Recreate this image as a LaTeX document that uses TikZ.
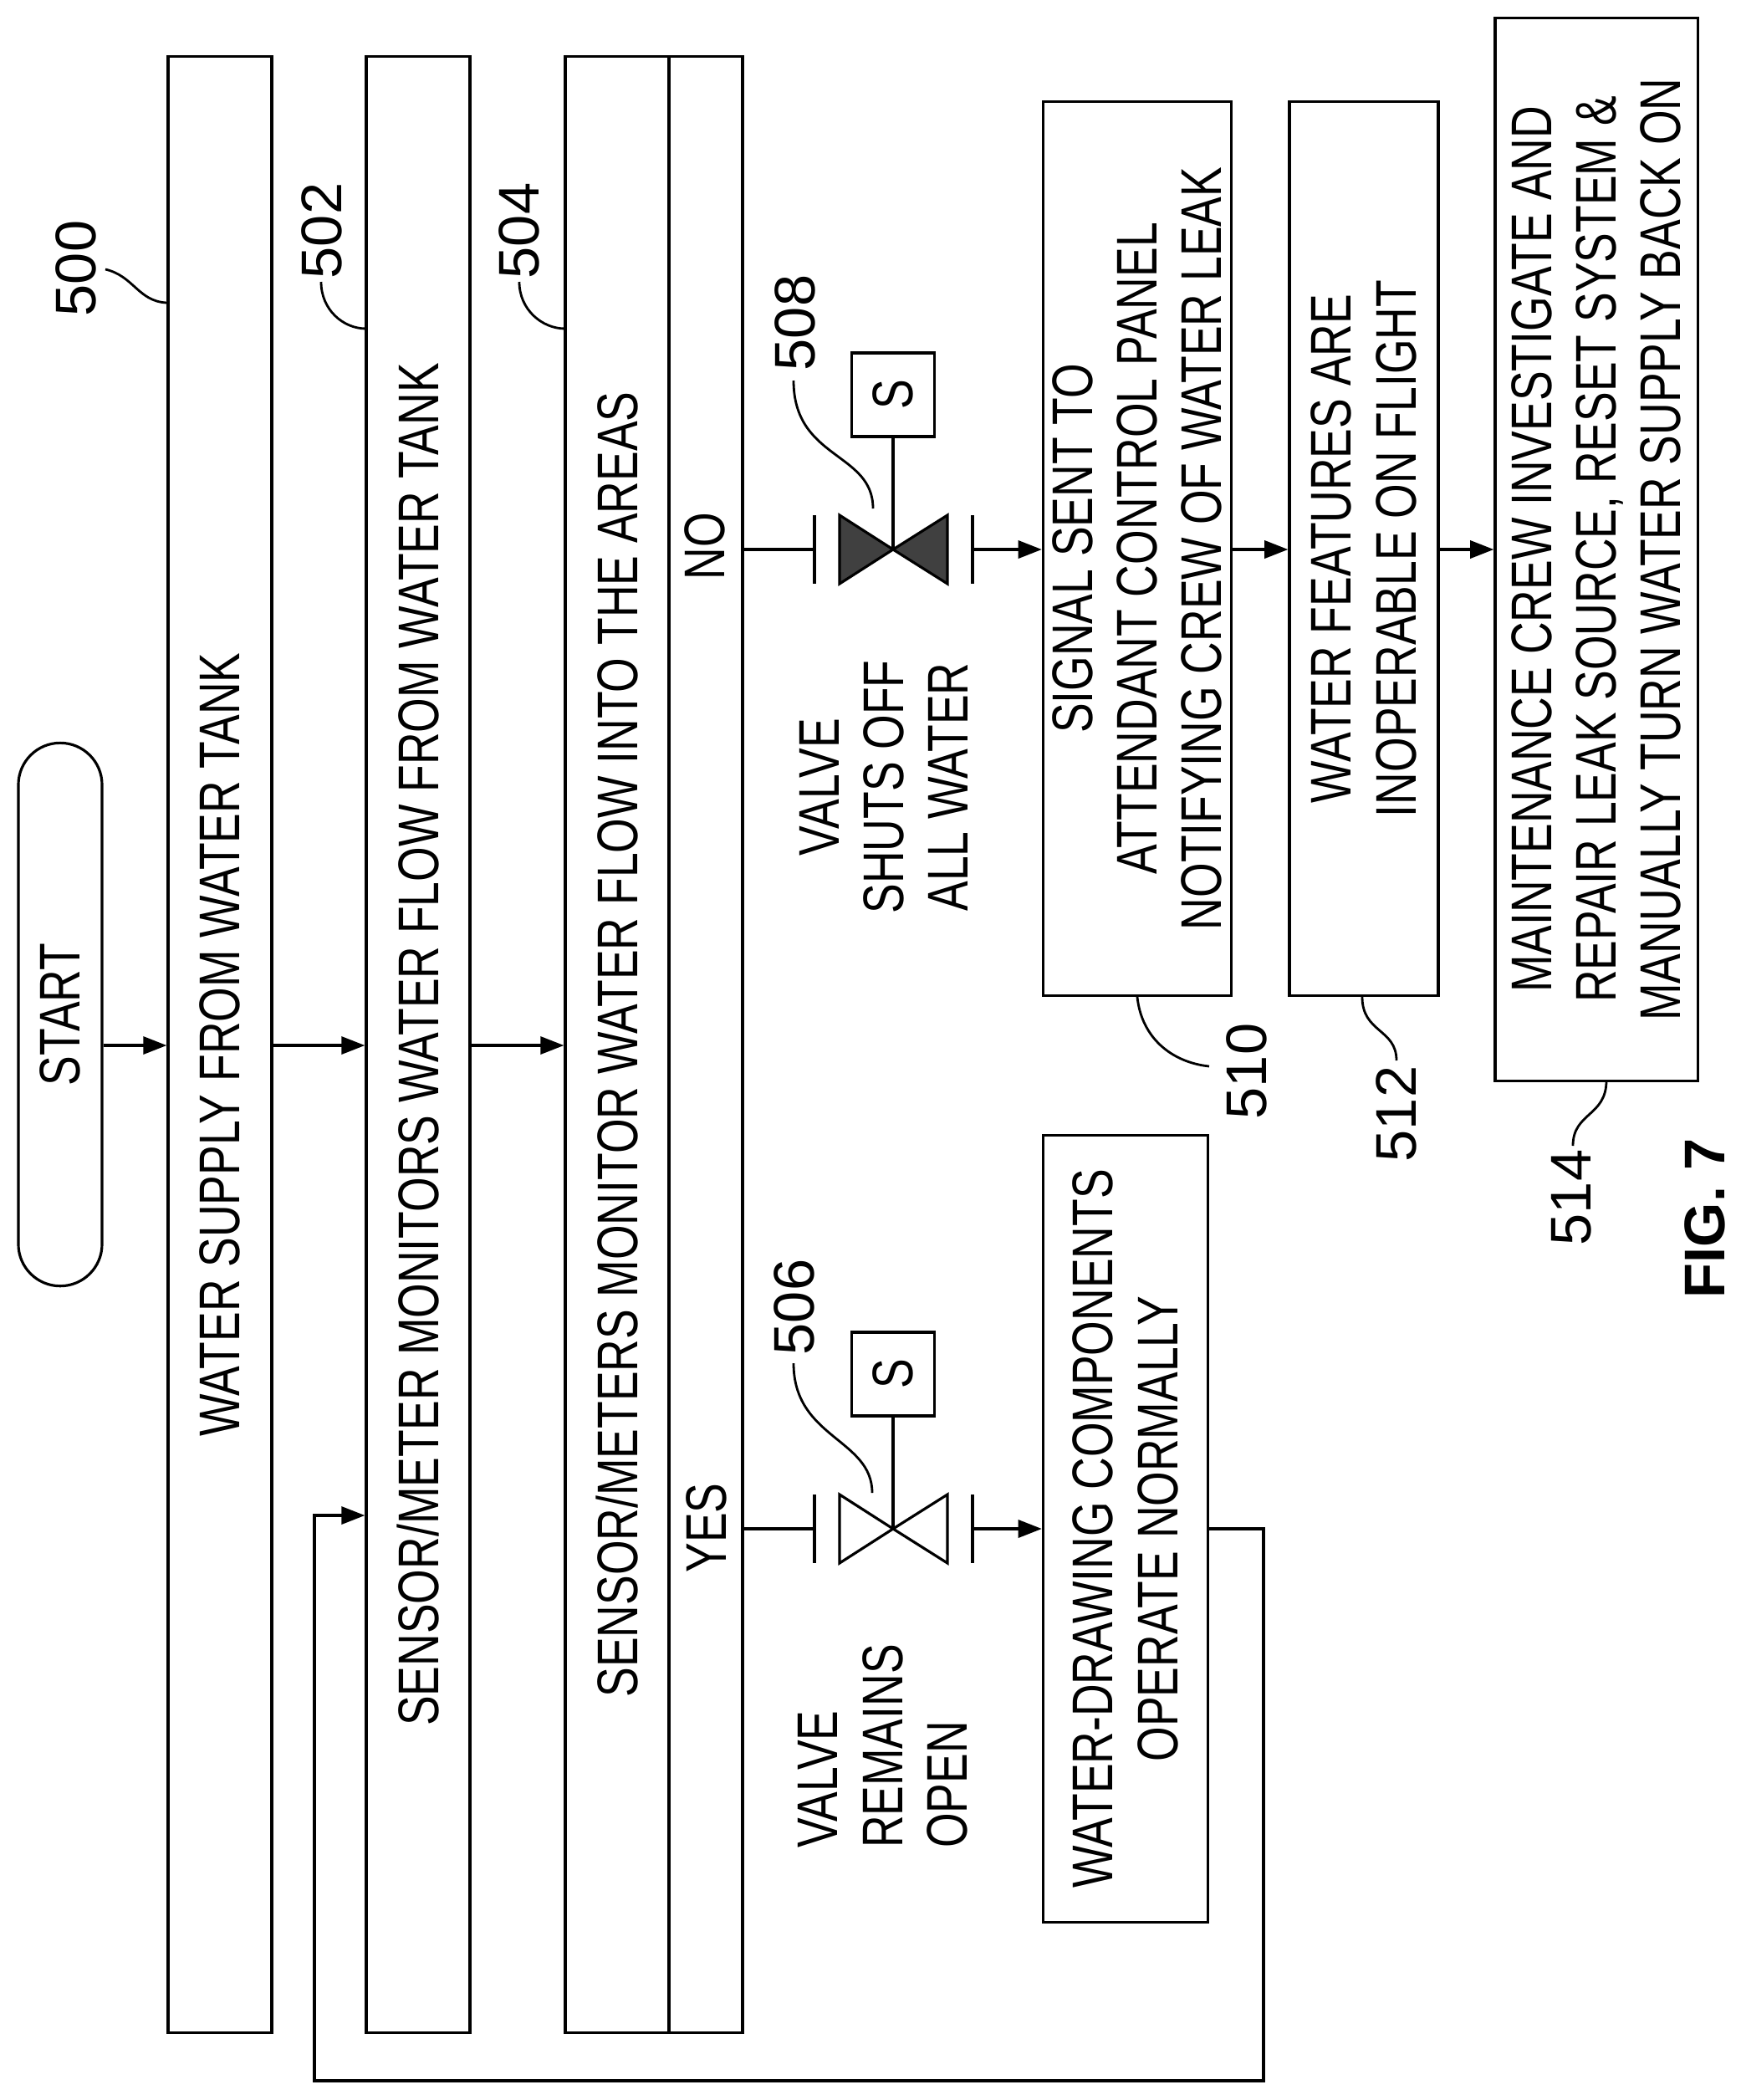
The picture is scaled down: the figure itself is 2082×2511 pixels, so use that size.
\documentclass[tikz,border=0pt]{standalone}
\usepackage{fontspec}
\setmainfont{Liberation Sans}[FakeStretch=0.78]
\newfontfamily\reffont{Liberation Sans}
\usetikzlibrary{arrows.meta}

\tikzset{
    box/.style={draw, rotate=90, align=center, inner sep=0pt, line width=0.9pt},
    txt/.style={rotate=90, align=center, inner sep=0pt},
    ref/.style={rotate=90, inner sep=0pt, font=\reffont\fontsize{19.5}{22}\selectfont},
    lead/.style={line width=0.8pt},
}

\begin{document}
\begin{tikzpicture}[x=0.01cm, y=-0.01cm, >={Triangle[length=8pt,width=6pt]}, line width=0.9pt,
    font=\fontsize{19.5}{22}\selectfont]
    \useasboundingbox (0,0) rectangle (2082,2511);
    \coordinate (row) at (0,1250);
    \coordinate (nrow) at (0,657);
    \coordinate (yrow) at (0,1828);
    \coordinate (frow) at (0,1812);
    \node[box, rounded corners=5mm, minimum width=64.9mm, minimum height=10mm] (start) at (72,1213) {START};
    \node[box, minimum width=236.1mm, minimum height=12.4mm] (b500) at (263,1249) {WATER SUPPLY FROM WATER TANK};
    \node[box, minimum width=236.1mm, minimum height=12.4mm] (b502) at (500,1249) {SENSOR/METER MONITORS WATER FLOW FROM WATER TANK};
    \node[box, minimum width=236.1mm, minimum height=12.4mm] (b504) at (738,1249) {SENSOR/METERS MONITOR WATER FLOW INTO THE AREAS};
    \node[box, minimum width=236.1mm, minimum height=8.8mm] (b504r) at (844,1249) {};
    \node[txt] (no) at (843,653) {NO};
    \node[txt] (yes) at (845,1827) {YES};
    \node[box, minimum width=106.8mm, minimum height=22.5mm] (b510) at (1360,656)
        {SIGNAL SENT TO\\ATTENDANT CONTROL PANEL\\NOTIFYING CREW OF WATER LEAK};
    \node[box, minimum width=106.8mm, minimum height=17.8mm] (b512) at (1631,656)
        {WATER FEATURES ARE\\INOPERABLE ON FLIGHT};
    \node[box, minimum width=127mm, minimum height=24.2mm] (b514) at (1909,657)
        {MAINTENANCE CREW INVESTIGATE AND\\REPAIR LEAK SOURCE, RESET SYSTEM \&\\MANUALLY TURN WATER SUPPLY BACK ON};
    \node[box, minimum width=94.1mm, minimum height=19.7mm] (bnorm) at (1346,1828)
        {WATER-DRAWING COMPONENTS\\OPERATE NORMALLY};
    \node[txt] (shut) at (1057,941) {VALVE\\SHUTS OFF\\ALL WATER};
    \node[txt, align=left] (open) at (1056,2088) {VALVE\\REMAINS\\OPEN};
    % valves
    \node[box, minimum width=10mm, minimum height=9.9mm] (s508) at (1068,472) {S};
    \node[box, minimum width=10mm, minimum height=9.9mm] (s506) at (1068,1643) {S};
    \coordinate (v508) at (1068,657);
    \coordinate (v506) at (1068,1828);
    \draw[fill=black!75] (1004,616) -- (1004,698) -- (v508) -- cycle (1133,616) -- (1133,698) -- (v508) -- cycle;
    \draw (1004,1787) -- (1004,1869) -- (v506) -- cycle (1133,1787) -- (1133,1869) -- (v506) -- cycle;
    \draw (v508) -- (s508.west);
    \draw (v506) -- (s506.west);
    \draw (974,616) -- (974,698) (1163,616) -- (1163,698);
    \draw (974,1787) -- (974,1869) (1163,1787) -- (1163,1869);
    \draw (b504r.south |- nrow) -- (974,657);
    \draw (b504r.south |- yrow) -- (974,1828);
    \draw[->] (1163,657) -- (b510.north |- nrow);
    \draw[->] (1163,1828) -- (bnorm.north |- yrow);
    % flow
    \draw[->] (start.south |- row) -- (b500.north |- row);
    \draw[->] (b500.south |- row) -- (b502.north |- row);
    \draw[->] (b502.south |- row) -- (b504.north |- row);
    \draw[->] (b510.south |- nrow) -- (b512.north |- nrow);
    \draw[->] (b512.south |- nrow) -- (b514.north |- nrow);
    \draw[->] (bnorm.south |- yrow) -- (1511,1828) -- (1511,2488) -- (376,2488) -- (376,1812) -- (b502.north |- frow);
    % reference numerals
    \node[ref] (r500) at (91,321) {500};
    \node[ref] (r502) at (385,276) {502};
    \node[ref] (r504) at (621,276) {504};
    \node[ref] (r506) at (950,1563) {506};
    \node[ref] (r508) at (951,386) {508};
    \node[ref] (r510) at (1491,1281) {510};
    \node[ref] (r512) at (1670,1332) {512};
    \node[ref] (r514) at (1879,1432) {514};
    \node[ref, font=\reffont\bfseries\fontsize{19.5}{22}\selectfont] (fig) at (2039,1457) {FIG. 7};
    \draw[lead] (126,322) .. controls (160,330) and (165,360) .. (199,362);
    \draw[lead] (384,337) .. controls (384,370) and (410,393) .. (438,393);
    \draw[lead] (621,337) .. controls (621,370) and (648,393) .. (676,393);
    \draw[lead] (949,1630) .. controls (949,1720) and (1043,1720) .. (1043,1785);
    \draw[lead] (949,455) .. controls (949,550) and (1044,540) .. (1044,608);
    \draw[lead] (1360,1192) .. controls (1365,1240) and (1400,1270) .. (1446,1275);
    \draw[lead] (1629,1192) .. controls (1629,1235) and (1670,1230) .. (1670,1268);
    \draw[lead] (1921,1292) .. controls (1921,1335) and (1881,1330) .. (1881,1370);
\end{tikzpicture}
\end{document}
